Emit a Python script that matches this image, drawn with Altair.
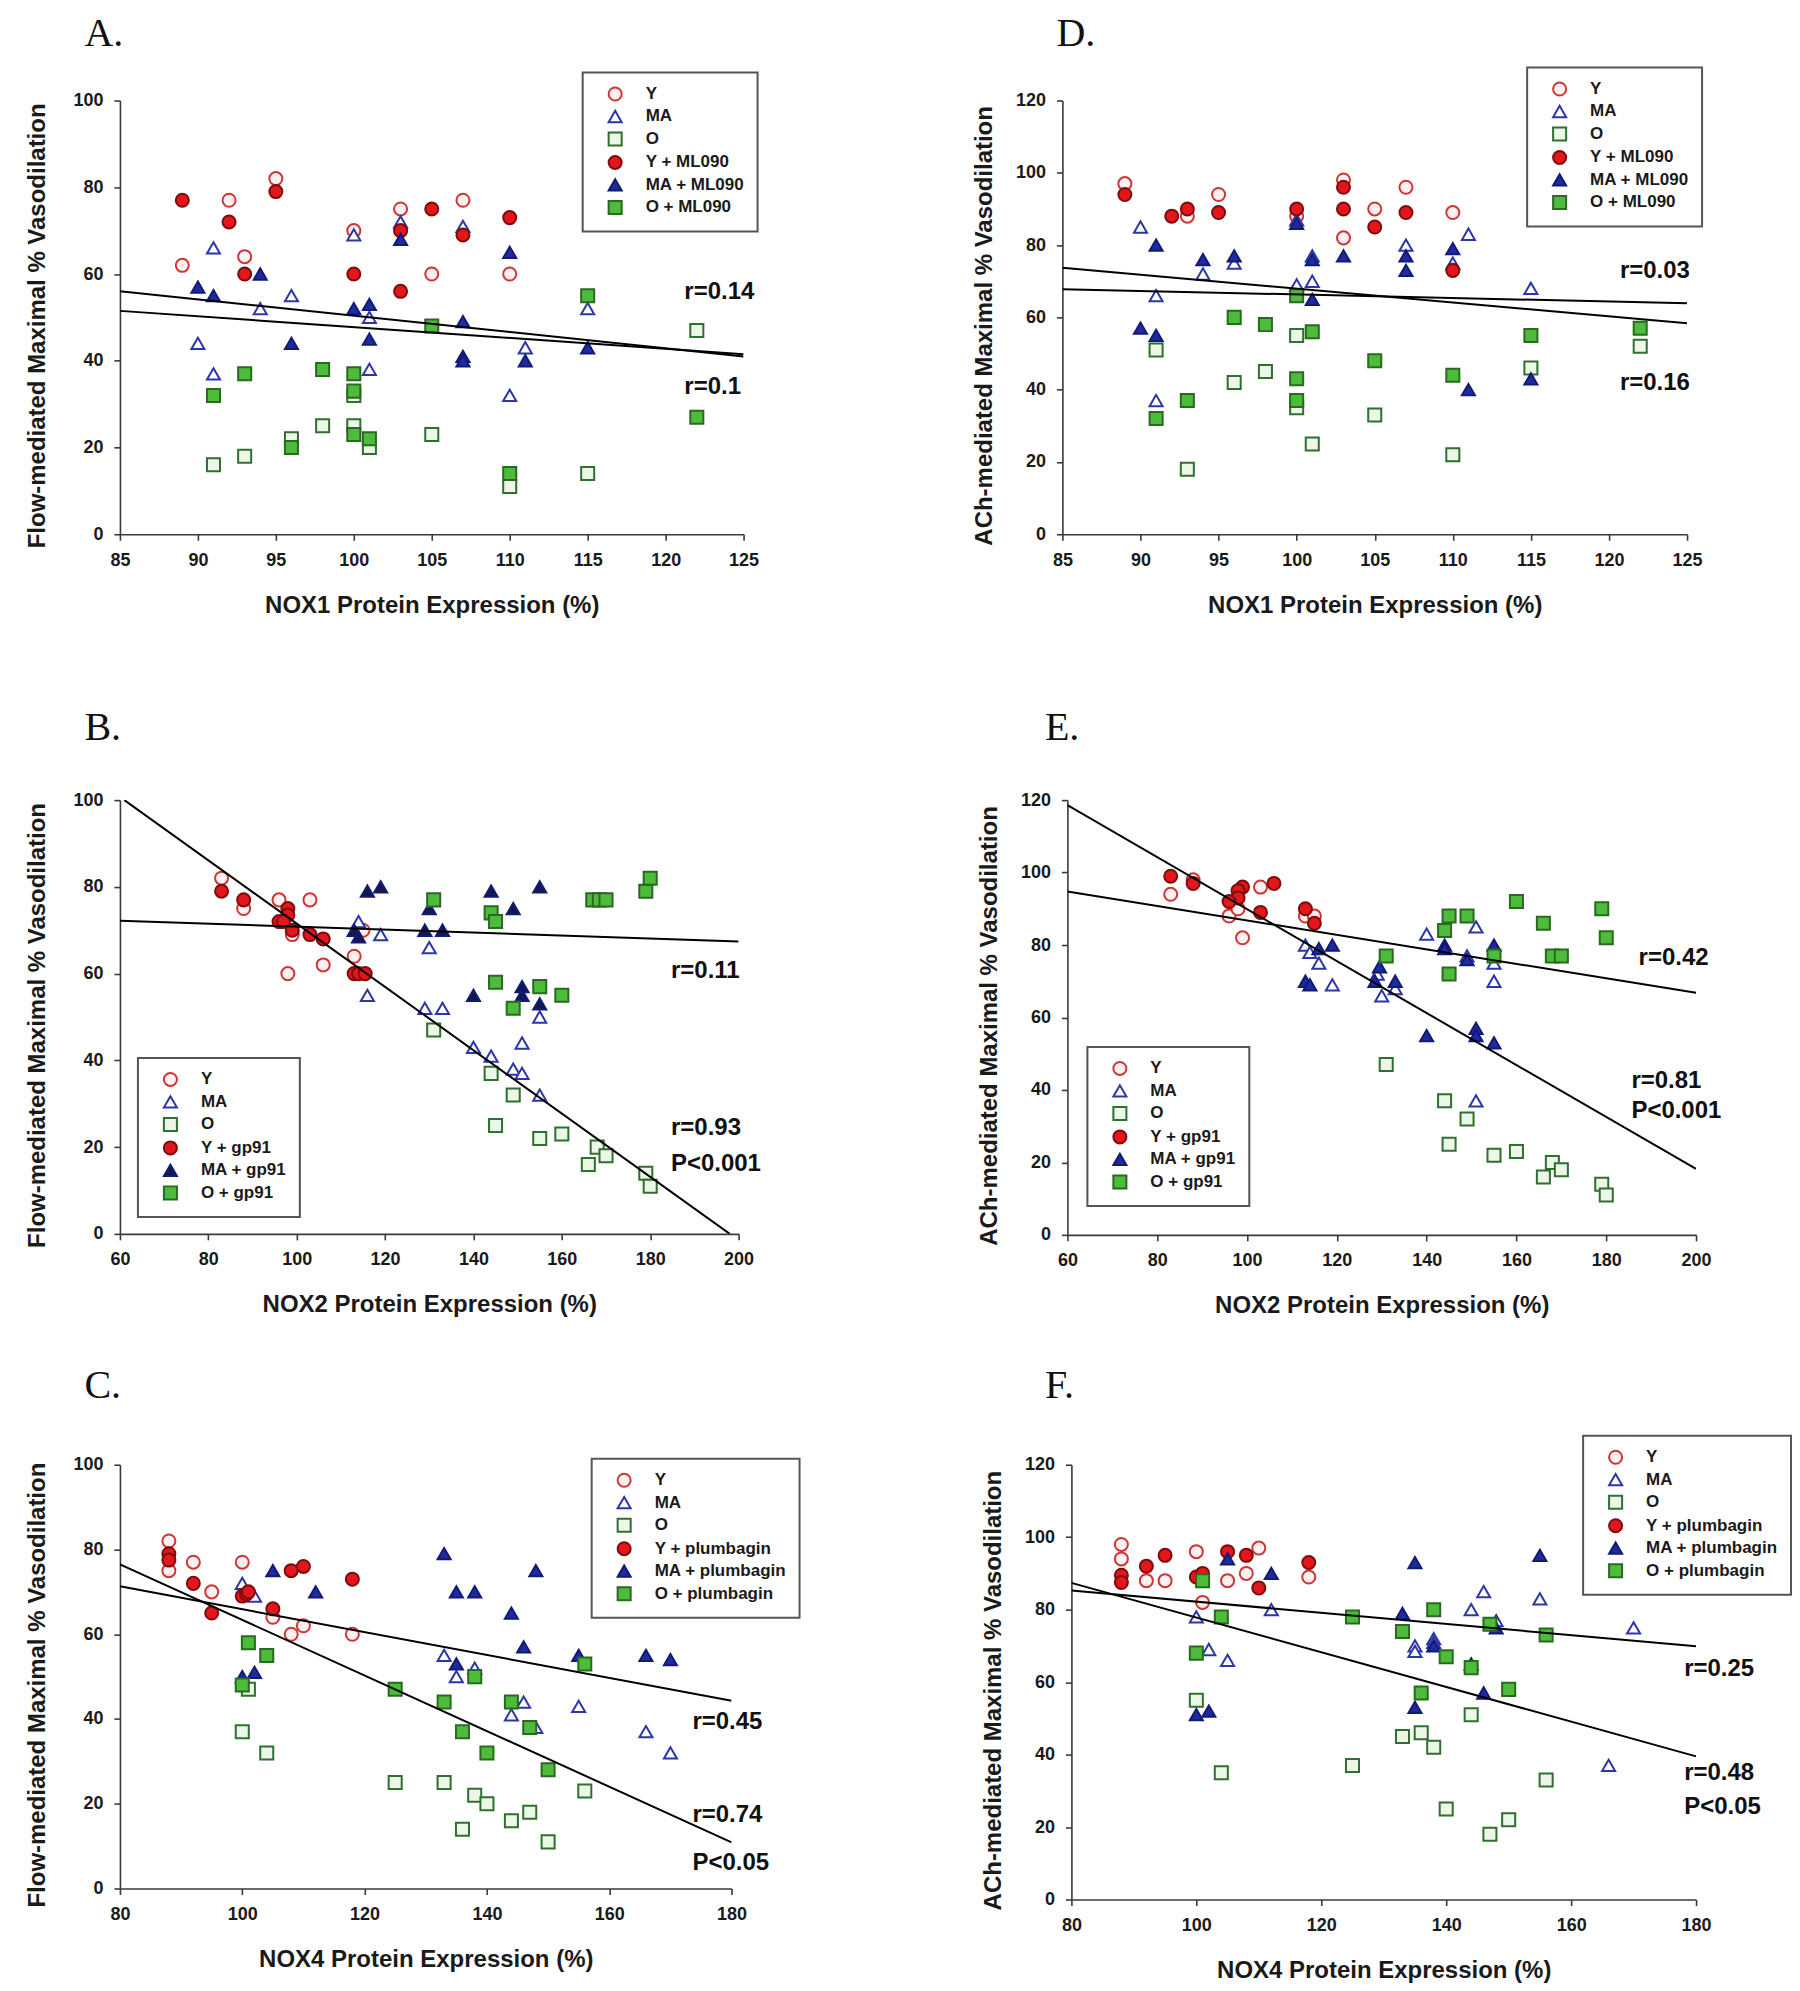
import altair as alt
import pandas as pd

# ---------------- values ----------------
XT_NOX1 = [85, 90, 95, 100, 105, 110, 115, 120, 125]
XT_NOX2 = [60, 80, 100, 120, 140, 160, 180, 200]
XT_NOX4 = [80, 100, 120, 140, 160, 180]
YT_100 = [0, 20, 40, 60, 80, 100]
YT_120 = [0, 20, 40, 60, 80, 100, 120]

GROUPS = ["Y", "MA", "O"]
TREATS = {"A": "ML090", "D": "ML090", "B": "gp91", "E": "gp91",
          "C": "plumbagin", "F": "plumbagin"}
XTITLE_1 = "NOX1 Protein Expression (%)"
XTITLE_2 = "NOX2 Protein Expression (%)"
XTITLE_4 = "NOX4 Protein Expression (%)"
YTITLE_FLOW = "Flow-mediated Maximal % Vasodilation"
YTITLE_ACH = "ACh-mediated Maximal % Vasodilation"

# Panel A  (NOX1, flow)
A_Y = [(89, 62), (92, 77), (93, 64), (95, 82), (100, 70), (103, 75), (105, 60), (107, 77), (110, 60)]
A_MA = [(90, 44), (91, 66), (91, 37), (94, 52), (96, 55), (100, 69), (101, 50), (101, 38), (103, 72),
        (107, 71), (110, 32), (111, 43), (115, 52)]
A_O = [(91, 16), (93, 18), (96, 22), (98, 25), (100, 25), (100, 32), (101, 20), (105, 23), (110, 11),
       (115, 14), (122, 47)]
A_Y_T = [(89, 77), (92, 72), (93, 60), (95, 79), (100, 60), (103, 70), (103, 56), (105, 75), (107, 69), (110, 73)]
A_MA_T = [(90, 57), (91, 55), (94, 60), (96, 44), (100, 52), (101, 53), (101, 45), (103, 68), (107, 49),
          (107, 41), (107, 40), (111, 40), (110, 65), (115, 43)]
A_O_T = [(91, 32), (93, 37), (96, 20), (98, 38), (100, 37), (100, 33), (100, 23), (101, 22), (105, 48),
         (110, 14), (115, 55), (122, 27)]
A_LINES = [[(85, 56), (125, 41)], [(85, 51.5), (125, 41.5)]]
A_NOTES = [(121.2, 55.9, "r=0.14"), (121.2, 34.0, "r=0.1")]

# Panel D  (NOX1, ACh)
D_Y = [(89, 97), (93, 88), (95, 94), (100, 88), (103, 98), (103, 82), (105, 90), (107, 96), (110, 89)]
D_MA = [(90, 85), (91, 66), (91, 37), (94, 72), (96, 75), (100, 87), (100, 69), (101, 77), (101, 70),
        (107, 80), (110, 75), (111, 83), (115, 68)]
D_O = [(91, 51), (93, 18), (96, 42), (98, 45), (100, 55), (100, 35), (101, 25), (105, 33), (110, 22),
       (115, 46), (122, 52)]
D_Y_T = [(89, 94), (92, 88), (93, 90), (95, 89), (100, 90), (103, 96), (103, 90), (105, 85), (107, 89), (110, 73)]
D_MA_T = [(90, 57), (91, 80), (91, 55), (94, 76), (96, 77), (100, 86), (101, 76), (101, 65), (103, 77),
          (107, 77), (107, 73), (110, 79), (111, 40), (115, 43)]
D_O_T = [(91, 32), (93, 37), (96, 60), (98, 58), (100, 66), (100, 43), (100, 37), (101, 56), (105, 48),
         (110, 44), (115, 55), (122, 57)]
D_LINES = [[(85, 67.8), (125, 63.9)], [(85, 73.7), (125, 58.4)]]
D_NOTES = [(120.7, 72.8, "r=0.03"), (120.7, 41.9, "r=0.16")]

# Panel B  (NOX2, flow)
B_Y = [(83, 82), (88, 75), (96, 77), (103, 77), (99, 69), (98, 60), (106, 62), (113, 64), (115, 70)]
B_MA = [(114, 72), (116, 55), (119, 69), (130, 66), (129, 52), (133, 52), (140, 43), (144, 41), (149, 38),
        (151, 37), (151, 44), (155, 50), (155, 32)]
B_O = [(131, 47), (144, 37), (149, 32), (145, 25), (155, 22), (160, 23), (168, 20), (170, 18), (166, 16),
       (179, 14), (180, 11)]
B_Y_T = [(83, 79), (88, 77), (98, 75), (98, 73.5), (96, 72), (97, 72), (99, 70), (103, 69), (106, 68),
         (113, 60), (114, 60), (115.5, 60)]
B_MA_T = [(116, 79), (119, 80), (113, 70), (114, 68.5), (130, 75), (129, 70), (133, 70), (144, 79),
          (155, 80), (149, 75), (140, 55), (151, 57), (151, 55), (155, 53)]
B_O_T = [(131, 77), (144, 74), (145, 72), (167, 77), (168.5, 77), (170, 77), (179, 79), (180, 82),
         (145, 58), (155, 57), (149, 52), (160, 55)]
B_LINES = [[(61, 100), (198, 0)], [(60, 72.2), (200, 67.4)]]
B_NOTES = [(184.7, 60.6, "r=0.11"), (184.7, 24.5, "r=0.93"), (184.7, 16.0, "P<0.001")]

# Panel E  (NOX2, ACh)
E_Y = [(83, 94), (88, 98), (103, 96), (96, 88), (98, 90), (99, 82), (113, 88), (115, 88)]
E_MA = [(113, 80), (114, 78), (116, 75), (119, 69), (129, 72), (130, 66), (133, 68), (140, 83), (151, 85),
        (149, 77), (155, 75), (155, 70), (151, 37)]
E_O = [(131, 47), (144, 37), (149, 32), (145, 25), (155, 22), (160, 23), (168, 20), (170, 18), (166, 16),
       (179, 14), (180, 11)]
E_Y_T = [(83, 99), (88, 97), (99, 96), (98, 95), (98, 93), (96, 92), (103, 89), (106, 97), (113, 90), (115, 86)]
E_MA_T = [(116, 79), (119, 80), (113, 70), (114, 69), (129.5, 74), (128.5, 70), (133, 70), (144, 80),
          (144, 79), (155, 80), (149, 76), (140, 55), (151, 57), (151, 55), (155, 53)]
E_O_T = [(131, 77), (145, 88), (149, 88), (144, 84), (145, 72), (155, 77), (160, 92), (166, 86), (168, 77),
         (170, 77), (179, 90), (180, 82)]
E_LINES = [[(60, 118.6), (200, 18.2)], [(60, 94.8), (200, 66.8)]]
E_NOTES = [(187.2, 76.5, "r=0.42"), (185.6, 42.6, "r=0.81"), (185.6, 34.3, "P<0.001")]

# Panel C  (NOX4, flow)
C_Y = [(88, 82), (88, 75), (92, 77), (100, 77), (95, 70), (105, 64), (108, 60), (110, 62), (118, 60)]
C_MA = [(100, 72), (102, 69), (133, 55), (135, 50), (138, 52), (146, 44), (144, 41), (148, 38), (155, 43),
        (166, 37), (170, 32)]
C_O = [(100, 37), (101, 47), (104, 32), (125, 25), (133, 25), (136, 14), (138, 22), (140, 20), (144, 16),
       (147, 18), (150, 11), (156, 23)]
C_Y_T = [(88, 79), (88, 77.5), (92, 72), (95, 65), (100, 69), (100.7, 69.5), (101, 70), (105, 66),
         (108, 75), (110, 76), (118, 73)]
C_MA_T = [(105, 75), (112, 70), (100, 50), (102, 51), (133, 79), (135, 70), (138, 70), (148, 75),
          (144, 65), (146, 57), (155, 55), (166, 55), (170, 54), (135, 53)]
C_O_T = [(101, 58), (104, 55), (100, 48), (125, 47), (133, 44), (138, 50), (136, 37), (140, 32), (144, 44),
         (147, 38), (150, 28), (156, 53)]
C_LINES = [[(80, 76.5), (180, 10.9)], [(80, 71.3), (180, 44.3)]]
C_NOTES = [(173.6, 39.2, "r=0.45"), (173.6, 17.3, "r=0.74"), (173.6, 6.0, "P<0.05")]

# Panel F  (NOX4, ACh)
F_Y = [(88, 98), (88, 94), (92, 88), (95, 88), (100, 96), (101, 82), (105, 88), (108, 90), (110, 97), (118, 89)]
F_MA = [(100, 78), (102, 69), (105, 66), (112, 80), (146, 85), (144, 80), (155, 83), (148, 77), (138, 72),
        (138, 71), (135, 70), (135, 68.5), (170, 75), (166, 37)]
F_O = [(100, 55), (104, 35), (125, 37), (133, 45), (136, 46), (138, 42), (144, 51), (140, 25), (147, 18),
       (150, 22), (156, 33)]
F_Y_T = [(88, 89.5), (88, 87.5), (92, 92), (95, 95), (100, 89), (101, 90), (105, 96), (108, 95), (110, 86), (118, 93)]
F_MA_T = [(105, 94), (112, 90), (100, 51), (102, 52), (135, 93), (155, 95), (133, 79), (138, 70), (135, 53),
          (146, 57), (144, 65), (148, 75)]
F_O_T = [(101, 88), (104, 78), (100, 68), (125, 78), (133, 74), (138, 80), (147, 76), (140, 67), (144, 64),
         (136, 57), (150, 58), (156, 73)]
F_LINES = [[(80, 87.4), (180, 39.5)], [(80, 85.3), (180, 69.9)]]
F_NOTES = [(178.1, 63.7, "r=0.25"), (178.1, 34.9, "r=0.48"), (178.1, 25.6, "P<0.05")]

# ---------------- styles ----------------
SHAPES = ["circle", "triangle-up", "square", "circle", "triangle-up", "square"]
FILLS = ["#fff1f1", "#ffffff", "#ecf7e8", "#e3161c", "#1f2b9c", "#4cbc3a"]
STROKES = ["#cf3535", "#2d36a8", "#2f6f2f", "#7d0d0d", "#121a78", "#2a6a20"]
SWIDTHS = [2.0, 2.0, 2.0, 1.0, 1.0, 1.0]
NAVY_FILL = "#14164f"
MARK_SIZE = 170

SANS = "Liberation Sans"
SERIF = "Liberation Serif"
AXIS = dict(grid=False, domainColor="#3a3a3a", domainWidth=1.6, tickColor="#3a3a3a", tickWidth=1.6,
            tickSize=6, labelFont=SANS, labelFontSize=18, labelFontWeight="bold", labelColor="#1a1a1a",
            labelPadding=11, labelFlush=False, labelOverlap=False, titleFont=SANS, titleFontSize=24,
            titleFontWeight="bold", titleColor="#1a1a1a")

LAYOUT = {
    "A": dict(w=624, h=434, legend=(463, -28), label=(-35.5, -55), ytx=-75),
    "D": dict(w=625, h=434, legend=(465, -33), label=(-6, -55), ytx=-71),
    "B": dict(w=619, h=434, legend=(18, 258), label=(-35.5, -60), ytx=-75),
    "E": dict(w=629, h=435, legend=(20, 247), label=(-22.5, -60), ytx=-71),
    "C": dict(w=612, h=424, legend=(472, -6), label=(-35.5, -67), ytx=-75),
    "F": dict(w=625, h=435, legend=(512, -29), label=(-26.5, -67), ytx=-71),
}


def panel(key, groups, lines, notes, xticks, yticks, xtitle, ytitle):
    lay = LAYOUT[key]
    W, H = lay["w"], lay["h"]
    labels = GROUPS + [f"{g} + {TREATS[key]}" for g in GROUPS]
    pts = pd.DataFrame([{"x": x, "y": y, "g": lab}
                        for lab, grp in zip(labels, groups) for x, y in grp])
    ln = pd.DataFrame([{"x": x, "y": y, "lid": i}
                       for i, seg in enumerate(lines) for x, y in seg])
    nt = pd.DataFrame([{"x": x, "y": y, "t": t} for x, y, t in notes])
    lb = pd.DataFrame([{"t": key + "."}])

    fills = list(FILLS)
    if key == "B":
        fills[4] = NAVY_FILL

    xs = alt.Scale(domain=[xticks[0], xticks[-1]], nice=False, zero=False)
    ys = alt.Scale(domain=[yticks[0], yticks[-1]], nice=False, zero=False)
    xax = alt.Axis(values=xticks, title=xtitle, titleX=W / 2, titleY=78, titleAlign="center",
                   titleBaseline="alphabetic", **AXIS)
    yax = alt.Axis(values=yticks, title=ytitle, titleX=lay["ytx"], titleY=H / 2 + 8, titleAngle=270,
                   titleAlign="center", titleBaseline="alphabetic", **AXIS)
    X = alt.X("x:Q", scale=xs, axis=xax)
    Y = alt.Y("y:Q", scale=ys, axis=yax)

    leg = alt.Legend(title=None, orient="none", legendX=lay["legend"][0], legendY=lay["legend"][1],
                     fillColor="white", strokeColor="#555555", padding=13, symbolOffset=11,
                     labelOffset=22, rowPadding=0.5, labelFont=SANS, labelFontSize=17,
                     labelFontWeight="bold", labelColor="#1a1a1a", symbolSize=MARK_SIZE, labelLimit=400)

    points = alt.Chart(pts).mark_point(filled=True, opacity=1, size=MARK_SIZE).encode(
        x=X, y=Y,
        shape=alt.Shape("g:N", scale=alt.Scale(domain=labels, range=SHAPES), legend=leg),
        fill=alt.Fill("g:N", scale=alt.Scale(domain=labels, range=fills), legend=leg),
        stroke=alt.Stroke("g:N", scale=alt.Scale(domain=labels, range=STROKES), legend=leg),
        strokeWidth=alt.StrokeWidth("g:N", scale=alt.Scale(domain=labels, range=SWIDTHS), legend=leg),
    )
    reg = alt.Chart(ln).mark_line(color="black", strokeWidth=2, clip=True).encode(
        x=X, y=Y, detail="lid:N")
    txt = alt.Chart(nt).mark_text(align="left", baseline="middle", font=SANS, fontSize=24,
                                  fontWeight="bold", color="#111111").encode(x=X, y=Y, text="t:N")
    plab = alt.Chart(lb).mark_text(align="left", baseline="alphabetic", font=SERIF, fontSize=40,
                                   color="#111111").encode(
        x=alt.value(lay["label"][0]), y=alt.value(lay["label"][1]), text="t:N")
    return alt.layer(points, reg, txt, plab).properties(width=W, height=H)


pA = panel("A", [A_Y, A_MA, A_O, A_Y_T, A_MA_T, A_O_T], A_LINES, A_NOTES, XT_NOX1, YT_100, XTITLE_1, YTITLE_FLOW)
pD = panel("D", [D_Y, D_MA, D_O, D_Y_T, D_MA_T, D_O_T], D_LINES, D_NOTES, XT_NOX1, YT_120, XTITLE_1, YTITLE_ACH)
pB = panel("B", [B_Y, B_MA, B_O, B_Y_T, B_MA_T, B_O_T], B_LINES, B_NOTES, XT_NOX2, YT_100, XTITLE_2, YTITLE_FLOW)
pE = panel("E", [E_Y, E_MA, E_O, E_Y_T, E_MA_T, E_O_T], E_LINES, E_NOTES, XT_NOX2, YT_120, XTITLE_2, YTITLE_ACH)
pC = panel("C", [C_Y, C_MA, C_O, C_Y_T, C_MA_T, C_O_T], C_LINES, C_NOTES, XT_NOX4, YT_100, XTITLE_4, YTITLE_FLOW)
pF = panel("F", [F_Y, F_MA, F_O, F_Y_T, F_MA_T, F_O_T], F_LINES, F_NOTES, XT_NOX4, YT_120, XTITLE_4, YTITLE_ACH)

IND = dict(shape="independent", fill="independent", stroke="independent", strokeWidth="independent",
           x="independent", y="independent")
LIND = dict(shape="independent", fill="independent", stroke="independent", strokeWidth="independent")


def res(c):
    return c.resolve_scale(**IND).resolve_legend(**LIND)


row1 = res(alt.hconcat(pA, pD, spacing=319, bounds="flush"))
row2 = res(alt.hconcat(pB, pE, spacing=329, bounds="flush"))
row3 = res(alt.hconcat(pC, pF, spacing=340, bounds="flush"))
lower = res(alt.vconcat(row2, row3, spacing=48))
chart = res(alt.vconcat(row1, lower, spacing=91)).properties(
    padding={"left": 17, "top": 5, "right": 0, "bottom": 2}
).configure_view(stroke=None).configure_legend(strokeWidth=2)

chart.save("out.html", embed_options={"renderer": "svg", "actions": False})
